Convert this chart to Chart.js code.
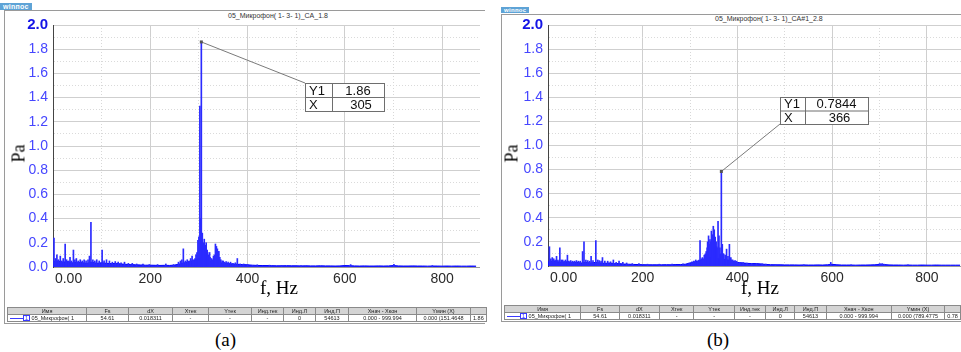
<!DOCTYPE html>
<html>
<head>
<meta charset="utf-8">
<script src="https://cdn.jsdelivr.net/npm/chart.js@4.4.1/dist/chart.umd.min.js"></script>
<style>
body { margin:0; width:961px; height:352px; background:#fff; position:relative; overflow:hidden; font-family:Arial, "Liberation Sans", sans-serif; }
.frame { position:absolute; border-top:1px solid #9a9a9a; border-left:1px solid #9a9a9a; border-bottom:1px solid #9a9a9a; }
.badge { position:absolute; background:#5ea3d6; color:#fff; font-size:7px; line-height:7px; height:7px; padding:0 3px; font-weight:bold; letter-spacing:0.3px; }
.title { position:absolute; font-size:7px; color:#333; white-space:nowrap; }
.ylab { position:absolute; font-family:"Liberation Serif", "DejaVu Serif", serif; font-size:18px; transform:rotate(-90deg); transform-origin:center; }
.xlab { position:absolute; font-family:"Liberation Serif", "DejaVu Serif", serif; font-size:19px; white-space:nowrap; }
.cap { position:absolute; font-family:"Liberation Serif", "DejaVu Serif", serif; font-size:19px; }
.cv { position:absolute; }
table.info { position:absolute; border-collapse:collapse; table-layout:fixed; font-size:5.5px; color:#222; }
table.info td { border:1px solid #8a8a8a; padding:0 2px; height:6px; line-height:6px; white-space:nowrap; overflow:hidden; text-align:center; }
table.info tr.h td { background:#d4d4d4; }
.leg { display:inline-block; width:13px; height:1px; background:#3a3aff; vertical-align:middle; }
.num { display:inline-block; border:1px solid #3a3aff; color:#3a3aff; padding:0 1px; line-height:4px; }
</style>
</head>
<body>

<div class="badge" style="left:0;top:3px;">winпос</div>
<div class="frame" style="left:4px;top:10px;width:480px;height:312px;"></div>
<div class="title" style="left:228px;top:12px;">05_Микрофон( 1- 3- 1)_CA_1.8</div>
<canvas id="chartA" class="cv" width="475" height="286" style="left:5px;top:11px;"></canvas>
<div class="ylab" style="left:10px;top:143px;">Pa</div>
<div class="xlab" style="left:260px;top:277px;">f, Hz</div>
<table class="info" style="left:7px;top:307px;">
  <colgroup><col style="width:79px"><col style="width:42px"><col style="width:44px"><col style="width:36px"><col style="width:43px"><col style="width:32px"><col style="width:32px"><col style="width:33px"><col style="width:68px"><col style="width:54px"><col style="width:14px"></colgroup>
  <tr class="h"><td>Имя</td><td>Fs</td><td>dX</td><td>Xтек</td><td>Yтек</td><td>Инд.тек</td><td>Инд.Л</td><td>Инд.П</td><td>Xнач - Xкон</td><td>Yмин (X)</td><td></td></tr>
  <tr><td style="text-align:left"><span class="leg"></span><span class="num">1</span> 05_Микрофон( 1</td><td>54.61</td><td>0.018311</td><td>-</td><td>-</td><td>-</td><td>0</td><td>54613</td><td>0.000 - 999.994</td><td>0.000 (151.4648</td><td style="text-align:left">1.86</td></tr>
</table>
<div class="cap" style="left:215px;top:329px;">(a)</div>

<div class="badge" style="left:501px;top:7px;font-size:6px;line-height:6px;height:6px;">winпос</div>
<div class="frame" style="left:501px;top:14px;width:470px;height:306px;"></div>
<div class="title" style="left:715px;top:15px;">05_Микрофон( 1- 3- 1)_CA#1_2.8</div>
<canvas id="chartB" class="cv" width="459" height="285" style="left:502px;top:11px;"></canvas>
<div class="ylab" style="left:503px;top:143px;">Pa</div>
<div class="xlab" style="left:741px;top:277px;">f, Hz</div>
<table class="info" style="left:504px;top:305px;">
  <colgroup><col style="width:77px"><col style="width:40px"><col style="width:41px"><col style="width:36px"><col style="width:42px"><col style="width:32px"><col style="width:30px"><col style="width:32px"><col style="width:67px"><col style="width:54px"><col style="width:10px"></colgroup>
  <tr class="h"><td>Имя</td><td>Fs</td><td>dX</td><td>Xтек</td><td>Yтек</td><td>Инд.тек</td><td>Инд.Л</td><td>Инд.П</td><td>Xнач - Xкон</td><td>Yмин (X)</td><td></td></tr>
  <tr><td style="text-align:left"><span class="leg"></span><span class="num">1</span> 05_Микрофон( 1</td><td>54.61</td><td>0.018311</td><td>-</td><td>-</td><td>-</td><td>0</td><td>54613</td><td>0.000 - 999.994</td><td>0.000 (789.4775</td><td style="text-align:left">0.78</td></tr>
</table>
<div class="cap" style="left:707px;top:329px;">(b)</div>

<script>
// spectrum floor, one value every 10 Hz from 0 Hz
var floorStep = 10;
var floorA = [0.045, 0.05, 0.04, 0.045, 0.035, 0.04, 0.035, 0.03, 0.04, 0.03,
  0.035, 0.03, 0.028, 0.03, 0.025, 0.022, 0.02, 0.018, 0.017, 0.015,
  0.015, 0.014, 0.013, 0.014, 0.013, 0.016, 0.025, 0.035, 0.045, 0.055,
  0.07, 0.06, 0.05, 0.045, 0.04, 0.03, 0.028, 0.025, 0.022, 0.02,
  0.018, 0.015, 0.013, 0.012, 0.012, 0.011, 0.01, 0.01, 0.011, 0.01,
  0.01, 0.009, 0.01, 0.009, 0.009, 0.01, 0.009, 0.009, 0.008, 0.009,
  0.012, 0.011, 0.009, 0.008, 0.009, 0.008, 0.008, 0.009, 0.008, 0.009,
  0.012, 0.009, 0.008, 0.008, 0.009, 0.008, 0.008, 0.007, 0.008, 0.008,
  0.007, 0.008, 0.007, 0.008, 0.007, 0.007, 0.008, 0.007];
var floorB = [0.035, 0.04, 0.035, 0.03, 0.035, 0.03, 0.03, 0.025, 0.03, 0.025,
  0.03, 0.025, 0.022, 0.025, 0.02, 0.02, 0.016, 0.015, 0.013, 0.012,
  0.011, 0.01, 0.01, 0.01, 0.01, 0.011, 0.01, 0.012, 0.012, 0.015,
  0.025, 0.035, 0.045, 0.055, 0.07, 0.075, 0.06, 0.055, 0.05, 0.04,
  0.03, 0.026, 0.022, 0.02, 0.02, 0.017, 0.013, 0.011, 0.01, 0.01,
  0.009, 0.009, 0.009, 0.008, 0.009, 0.008, 0.008, 0.009, 0.008, 0.01,
  0.014, 0.01, 0.008, 0.008, 0.008, 0.007, 0.008, 0.008, 0.009, 0.01,
  0.013, 0.012, 0.009, 0.008, 0.008, 0.007, 0.008, 0.007, 0.007, 0.008,
  0.007, 0.007, 0.008, 0.007, 0.007, 0.007, 0.007, 0.007];

// spectral lines (Hz / Pa)
var spikeHzA = [2, 5, 8, 11, 15, 18, 21, 25, 28, 32, 35, 38, 42, 45, 48, 52, 56, 60, 64, 68,
  72, 75, 78, 82, 86, 90, 95, 101, 105, 110, 116, 122, 128, 134, 140, 147, 155, 163, 172, 185,
  198, 215, 232, 248, 258, 262, 265, 268, 272, 276, 280, 283, 286, 289, 292, 294, 296, 298, 300, 302,
  304, 305, 307, 309, 310, 311, 313, 315, 317, 318, 320, 322, 323, 326, 328, 330, 332, 334, 336, 338,
  340, 341, 343, 345, 348, 350, 353, 356, 360, 365, 370, 375, 379, 385, 392, 400, 420, 445, 470, 510,
  612, 701, 780];
var spikeAmpA = [0.24, 0.07, 0.1, 0.06, 0.09, 0.05, 0.07, 0.19, 0.06, 0.05, 0.08, 0.05, 0.14, 0.06, 0.07, 0.05, 0.06, 0.05, 0.06, 0.05,
  0.06, 0.09, 0.37, 0.06, 0.05, 0.06, 0.05, 0.14, 0.05, 0.06, 0.05, 0.04, 0.045, 0.04, 0.035, 0.04, 0.03, 0.03, 0.025, 0.025,
  0.02, 0.02, 0.025, 0.02, 0.04, 0.05, 0.06, 0.15, 0.05, 0.06, 0.05, 0.07, 0.09, 0.06, 0.07, 0.1, 0.12, 0.22, 0.25, 1.33,
  0.4, 1.86, 0.28, 0.2, 0.15, 0.23, 0.18, 0.2, 0.14, 0.12, 0.1, 0.12, 0.08, 0.07, 0.06, 0.09, 0.1, 0.19, 0.17, 0.15,
  0.12, 0.13, 0.08, 0.06, 0.05, 0.05, 0.04, 0.045, 0.04, 0.04, 0.03, 0.035, 0.07, 0.025, 0.025, 0.02, 0.018, 0.015, 0.014, 0.012,
  0.02, 0.022, 0.012];

var spikeHzB = [3, 6, 9, 12, 15, 18, 21, 25, 28, 31, 34, 37, 41, 44, 48, 52, 56, 60, 64, 68,
  73, 76, 80, 84, 88, 91, 95, 101, 105, 108, 112, 115, 120, 126, 132, 138, 144, 150, 158, 166,
  178, 192, 210, 235, 262, 285, 298, 304, 308, 312, 316, 319, 321, 324, 326, 328, 330, 332, 334, 336,
  337, 339, 340, 342, 344, 345, 347, 348, 349, 351, 352, 353, 355, 356, 357, 359, 361, 363, 364, 366,
  368, 370, 371, 374, 376, 377, 380, 383, 385, 386, 388, 390, 393, 395, 398, 400, 405, 412, 420, 430,
  440, 452, 460, 480, 540, 597, 640, 700, 703, 706, 710, 760];
var spikeAmpB = [0.16, 0.06, 0.07, 0.06, 0.05, 0.08, 0.05, 0.15, 0.05, 0.05, 0.04, 0.05, 0.09, 0.04, 0.045, 0.04, 0.04, 0.045, 0.04, 0.04,
  0.12, 0.2, 0.05, 0.045, 0.04, 0.08, 0.045, 0.21, 0.05, 0.045, 0.04, 0.07, 0.04, 0.04, 0.035, 0.05, 0.03, 0.04, 0.03, 0.025,
  0.02, 0.02, 0.015, 0.015, 0.015, 0.018, 0.025, 0.035, 0.04, 0.05, 0.04, 0.05, 0.21, 0.06, 0.07, 0.06, 0.09, 0.1, 0.12, 0.15,
  0.2, 0.25, 0.18, 0.22, 0.2, 0.29, 0.26, 0.22, 0.33, 0.3, 0.2, 0.24, 0.2, 0.16, 0.15, 0.37, 0.25, 0.15, 0.1, 0.7844,
  0.18, 0.1, 0.1, 0.09, 0.08, 0.14, 0.08, 0.18, 0.06, 0.07, 0.05, 0.05, 0.04, 0.045, 0.04, 0.03, 0.03, 0.028, 0.025, 0.022,
  0.02, 0.018, 0.015, 0.012, 0.01, 0.03, 0.01, 0.02, 0.018, 0.02, 0.015, 0.01];

// marked maximum of each spectrum
var peakHz = [305, 366];
var peakAmp = ['1.86', '0.7844'];

var xLabelHz = [0, 200, 400, 600, 800];
var xMax = [878, 872];

// Draws the Y1 / X readout box and its leader line.
var peakBox = {
  id: 'peakBox',
  afterDatasetsDraw: function(chart) {
    var o = chart.options.plugins.peakBox;
    var c = chart.ctx;
    var px = chart.scales.x.getPixelForValue(o.hz);
    var py = chart.scales.y.getPixelForValue(parseFloat(o.amp));
    var ax = o.box[0];
    var ay = o.anchorBottom ? o.box[1] + o.box[3] : o.box[1];
    c.save();
    c.strokeStyle = '#7a7a7a';
    c.lineWidth = 1;
    c.beginPath();
    c.moveTo(px, py);
    c.lineTo(ax, ay);
    c.stroke();
    c.fillStyle = '#555';
    c.fillRect(px - 1.5, py - 1.5, 3, 3);

    var bx = o.box[0], by = o.box[1], bw = o.box[2], bh = o.box[3];
    c.fillStyle = '#fff';
    c.fillRect(bx, by, bw, bh);
    c.strokeStyle = '#6e6e6e';
    c.strokeRect(bx + 0.5, by + 0.5, bw, bh);
    c.beginPath();
    c.moveTo(bx + o.split + 0.5, by);
    c.lineTo(bx + o.split + 0.5, by + bh);
    c.moveTo(bx, by + bh / 2 + 0.5);
    c.lineTo(bx + bw, by + bh / 2 + 0.5);
    c.stroke();
    c.fillStyle = '#111';
    c.font = '13px Arial, "Liberation Sans", sans-serif';
    c.textBaseline = 'middle';
    c.textAlign = 'left';
    c.fillText('Y1', bx + 4, by + bh / 4 + 1);
    c.fillText('X', bx + 4, by + bh * 3 / 4 + 1);
    c.textAlign = 'center';
    var mid = bx + o.split + (bw - o.split) / 2;
    c.fillText(o.amp, mid, by + bh / 4 + 1);
    c.fillText(String(o.hz), mid + 3, by + bh * 3 / 4 + 1);
    c.restore();
  }
};

function buildChart(id, floor, spikeHz, spikeAmp, idx, box, split, anchorBottom, yWidth) {
  var floorPts = floor.map(function(v, i) { return {x: i * floorStep, y: v}; });
  var spikePts = spikeHz.map(function(f, i) { return {x: f, y: spikeAmp[i]}; });

  var dashFn = function(ctx) {
    if (!ctx.tick) return [];
    var v = Math.round(ctx.tick.value * 10);
    return v % 2 === 0 ? [] : [1, 2];
  };
  var xDashFn = function(ctx) {
    if (!ctx.tick) return [];
    return Math.round(ctx.tick.value) % 200 === 0 ? [] : [1, 2];
  };

  return new Chart(document.getElementById(id), {
    type: 'bar',
    data: {
      datasets: [{
        type: 'bar',
        data: spikePts,
        backgroundColor: '#2b2bff',
        barThickness: 1,
        grouped: false,
        order: 1
      }, {
        type: 'line',
        data: floorPts,
        borderColor: '#0000ff',
        borderWidth: 1,
        backgroundColor: 'rgba(0,0,255,0.85)',
        fill: 'origin',
        pointRadius: 0,
        tension: 0,
        order: 2
      }]
    },
    options: {
      responsive: false,
      animation: false,
      events: [],
      layout: { padding: { top: 12, right: 0, bottom: 0, left: 0 } },
      plugins: {
        legend: { display: false },
        tooltip: { enabled: false },
        peakBox: { hz: peakHz[idx], amp: peakAmp[idx], box: box, split: split, anchorBottom: anchorBottom }
      },
      scales: {
        x: {
          type: 'linear',
          min: 0,
          max: xMax[idx],
          offset: false,
          grid: { offset: false, drawTicks: false, color: function(ctx) {
            return ctx.tick && Math.round(ctx.tick.value) % 200 === 0 ? '#cfcfcf' : '#d8d8d8';
          } },
          border: { color: '#9a9a9a', dash: xDashFn },
          afterFit: function(scale) { scale.height = 30; },
          ticks: {
            stepSize: 100,
            includeBounds: false,
            autoSkip: false,
            maxRotation: 0,
            padding: 4,
            color: '#2a2a2a',
            font: { size: 14, family: 'Arial, "Liberation Sans", sans-serif' },
            callback: function(v) {
              if (xLabelHz.indexOf(Math.round(v)) < 0) return '';
              return v === 0 ? '        0.00' : String(v);
            }
          }
        },
        y: {
          min: 0,
          max: 2.0,
          grid: { drawTicks: false, color: function(ctx) {
            return ctx.tick && Math.round(ctx.tick.value * 10) % 2 === 0 ? '#cfcfcf' : '#dadada';
          } },
          border: { color: '#444', dash: dashFn },
          afterFit: function(scale) { scale.width = yWidth; },
          ticks: {
            stepSize: 0.1,
            autoSkip: false,
            padding: 5,
            color: function(ctx) { return ctx.tick && ctx.tick.value > 1.95 ? '#1414e6' : '#4646ff'; },
            font: function(ctx) {
              var top = ctx.tick && ctx.tick.value > 1.95;
              return { size: top ? 15 : 14, weight: top ? 'bold' : 'normal', family: 'Arial, "Liberation Sans", sans-serif' };
            },
            callback: function(v) {
              return Math.round(v * 10) % 2 === 0 ? v.toFixed(1) : '';
            }
          }
        }
      }
    },
    plugins: [peakBox]
  });
}

buildChart('chartA', floorA, spikeHzA, spikeAmpA, 0, [300, 72, 79, 28], 27, false, 48);
buildChart('chartB', floorB, spikeHzB, spikeAmpB, 1, [278, 86, 88, 27], 25, true, 46);
</script>
</body>
</html>
